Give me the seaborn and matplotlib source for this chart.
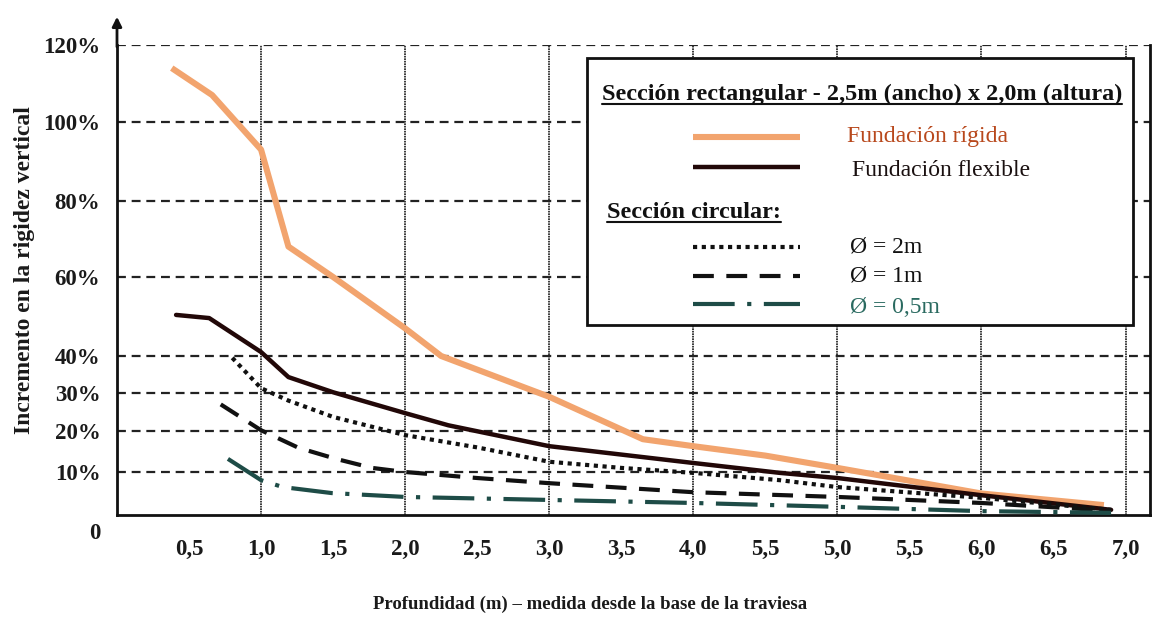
import numpy as np
import pandas as pd
import matplotlib
matplotlib.use("Agg")
import matplotlib.pyplot as plt
import seaborn as sns
from matplotlib.lines import Line2D
from matplotlib.patches import Rectangle

sns.set_theme(style="white")
plt.rcParams['font.family'] = ['Liberation Serif', 'DejaVu Serif']

# ---------------- data ----------------
x_rigida = [0.38, 0.66, 1.0, 1.19, 1.5, 2.0, 2.25, 3.0, 3.65, 4.0, 4.5, 5.0, 6.0, 6.85]
y_rigida = [114, 107, 93, 68, 60, 47, 40, 29, 18, 16.3, 14, 11, 5, 2.3]

x_flexible = [0.41, 0.64, 1.0, 1.19, 1.5, 2.0, 2.3, 3.0, 4.0, 4.6, 5.0, 6.0, 6.9]
y_flexible = [50.4, 49.6, 41, 34.3, 30.2, 24.7, 21.5, 16.3, 12.2, 9.8, 8.6, 4.6, 1.2]

x_d2 = [0.80, 1.0, 1.19, 1.5, 2.0, 2.5, 3.0, 3.5, 4.0, 4.6, 5.0, 6.0, 6.9]
y_d2 = [39.5, 31.3, 28, 23.7, 19, 16, 12.5, 11, 9.8, 8.1, 6.5, 4.0, 1.2]

x_d1 = [0.72, 1.0, 1.26, 1.52, 1.77, 2.0, 2.5, 3.0, 4.0, 5.0, 6.0, 6.9]
y_d1 = [27, 20.2, 15.9, 13.2, 11, 10, 8.6, 7.4, 5.3, 4.2, 2.8, 1.0]

x_d05 = [0.77, 1.0, 1.15, 1.49, 2.0, 3.0, 4.0, 5.0, 6.0, 6.9]
y_d05 = [13.2, 8.1, 6.5, 5.1, 4.2, 3.5, 2.8, 1.9, 0.9, 0.5]

x_ticks = [0.5, 1.0, 1.5, 2.0, 2.5, 3.0, 3.5, 4.0, 4.5, 5.0, 5.5, 6.0, 6.5, 7.0]
x_ticklabels = ["0,5", "1,0", "1,5", "2,0", "2,5", "3,0", "3,5", "4,0", "5,5",
                "5,0", "5,5", "6,0", "6,5", "7,0"]
y_ticks = [10, 20, 30, 40, 60, 80, 100, 120]
y_ticklabels = ["10%", "20%", "30%", "40%", "60%", "80%", "100%", "120%"]

# non-uniform y axis (as in the original figure)
y_nodes = [0, 10, 20, 30, 40, 60, 80, 100, 120]
y_node_pos = [0, 43, 84, 122, 159, 238, 314, 393, 470]

def _fwd(v):
    v = np.asarray(v, dtype=float)
    out = np.interp(v, y_nodes, y_node_pos)
    out = np.where(v > 120, 470 + (v - 120) * 3.9, out)
    out = np.where(v < 0, v * 4.3, out)
    return out

def _inv(p):
    p = np.asarray(p, dtype=float)
    out = np.interp(p, y_node_pos, y_nodes)
    out = np.where(p > 470, 120 + (p - 470) / 3.9, out)
    out = np.where(p < 0, p / 4.3, out)
    return out

# ---------------- figure ----------------
fig = plt.figure(figsize=(11.67, 6.22), dpi=100)
ax = fig.add_axes([117 / 1167, 1 - 515 / 622, 1033 / 1167, 470 / 622])
ax.set_facecolor("white")
ax.set_yscale("function", functions=(_fwd, _inv))

series = [
    (x_rigida, y_rigida, dict(color="#f2a46e", lw=4.4, linestyle="-", solid_capstyle="butt")),
    (x_flexible, y_flexible, dict(color="#220808", lw=3.2, linestyle="-")),
    (x_d2, y_d2, dict(color="#111111", lw=3.0, linestyle=(0, (1, 1.1)), dash_capstyle="butt")),
    (x_d1, y_d1, dict(color="#111111", lw=3.0, linestyle=(0, (5, 3)), dash_capstyle="butt")),
    (x_d05, y_d05, dict(color="#1e4c47", lw=3.0, linestyle=(0, (10, 3, 1, 3)), dash_capstyle="butt")),
]
for xs, ys, kw in series:
    df = pd.DataFrame({"x": xs, "y": ys})
    sns.lineplot(data=df, x="x", y="y", ax=ax, sort=False, estimator=None, zorder=3, **kw)

ax.set_xlim(0, 7.17)
ax.set_ylim(0, 120)

# ticks
tick_font = dict(fontsize=16.5, fontweight="bold", color="#1a1a1a")
ax.set_xticks(x_ticks)
ax.set_xticklabels(x_ticklabels, **tick_font)
ax.set_yticks(y_ticks)
ax.set_yticklabels(y_ticklabels, **tick_font)
ax.tick_params(axis="x", which="major", direction="out", length=14, width=2, color="#111111", pad=3)
ax.tick_params(axis="y", which="major", direction="inout", length=16, width=1.6, color="#111111", pad=4)
ax.annotate("0", xy=(0, 0), xycoords="data", xytext=(-16, -13), textcoords="offset points",
            ha="center", va="center", **tick_font)

# grid: dashed horizontal, fine dotted vertical at integer depths only
ax.grid(False)
ax.yaxis.grid(True, which="major", linestyle=(0, (4, 2.6)), color="#222222", lw=1.6, zorder=1)
ax.xaxis.grid(True, which="major", linestyle=(0, (1, 0.5)), color="#1a1a1a", lw=1.2, zorder=1)
for t, v in zip(ax.xaxis.get_major_ticks(), x_ticks):
    if abs(v - round(v)) > 1e-6:
        t.gridline.set_visible(False)
ax.set_axisbelow(True)

# spines
for s in ["left", "bottom", "right"]:
    ax.spines[s].set_visible(True)
    ax.spines[s].set_color("#111111")
    ax.spines[s].set_linewidth(2)
ax.spines["top"].set_visible(False)
ax.annotate("", xy=(0, 1.066), xycoords="axes fraction", xytext=(0, 0.99),
            arrowprops=dict(arrowstyle="-|>", color="#111111", lw=2, mutation_scale=14),
            annotation_clip=False)

# labels
ax.set_ylabel("Incremento en la rigidez vertical", fontsize=17, fontweight="bold", color="#1a1a1a")
ax.yaxis.set_label_coords(-0.079, 0.521)
ax.set_xlabel("Profundidad (m) \u2013 medida desde la base de la traviesa", fontsize=13.5,
              fontweight="bold", color="#1a1a1a")
ax.xaxis.set_label_coords(0.458, -0.172)

# ---------------- legend box ----------------
T = ax.transAxes
box = Rectangle((0.455, 0.404), 0.9835 - 0.455, 0.972 - 0.404, transform=T,
                facecolor="white", edgecolor="#111111", lw=2, zorder=5)
ax.add_patch(box)

def sample(y, **kw):
    ax.add_line(Line2D([0.5576, 0.6612], [y, y], transform=T, zorder=6, **kw))

h1 = ax.text(0.4695, 0.894, "Secci\u00f3n rectangular - 2,5m (ancho) x 2,0m (altura)", transform=T,
             fontsize=17.5, fontweight="bold", color="#111111", va="center", ha="left", zorder=6)
sample(0.804, color="#f2a46e", lw=4.4, solid_capstyle="butt")
ax.text(0.7067, 0.806, "Fundaci\u00f3n r\u00edgida", transform=T, fontsize=17, color="#b8481c",
        va="center", ha="left", zorder=6)
sample(0.740, color="#220808", lw=3.2, solid_capstyle="butt")
ax.text(0.7115, 0.734, "Fundaci\u00f3n flexible", transform=T, fontsize=17, color="#1a1010",
        va="center", ha="left", zorder=6)
h2 = ax.text(0.4743, 0.6426, "Secci\u00f3n circular:", transform=T, fontsize=17.5, fontweight="bold",
             color="#111111", va="center", ha="left", zorder=6)
sample(0.570, color="#111111", lw=3.0, linestyle=(0, (1, 1.1)), dash_capstyle="butt")
ax.text(0.7096, 0.570, "\u00d8 = 2m", transform=T, fontsize=17, color="#111111",
        va="center", ha="left", zorder=6)
sample(0.5085, color="#111111", lw=3.0, linestyle=(0, (5, 3)), dash_capstyle="butt")
ax.text(0.7096, 0.5085, "\u00d8 = 1m", transform=T, fontsize=17, color="#111111",
        va="center", ha="left", zorder=6)
sample(0.449, color="#1e4c47", lw=3.0, linestyle=(0, (10, 3, 1, 3)), dash_capstyle="butt")
ax.text(0.7096, 0.442, "\u00d8 = 0,5m", transform=T, fontsize=17, color="#2a6a60",
        va="center", ha="left", zorder=6)

# underline headers
fig.canvas.draw()
r = fig.canvas.get_renderer()
inv = T.inverted()
for h in (h1, h2):
    bb = h.get_window_extent(renderer=r)
    (x0, y0), (x1, _) = inv.transform([(bb.x0, bb.y0), (bb.x1, bb.y1)])
    ax.add_line(Line2D([x0, x1], [y0 + 0.004, y0 + 0.004], transform=T, color="#111111",
                       lw=1.5, zorder=6))

fig.savefig("out.png", dpi=100)
